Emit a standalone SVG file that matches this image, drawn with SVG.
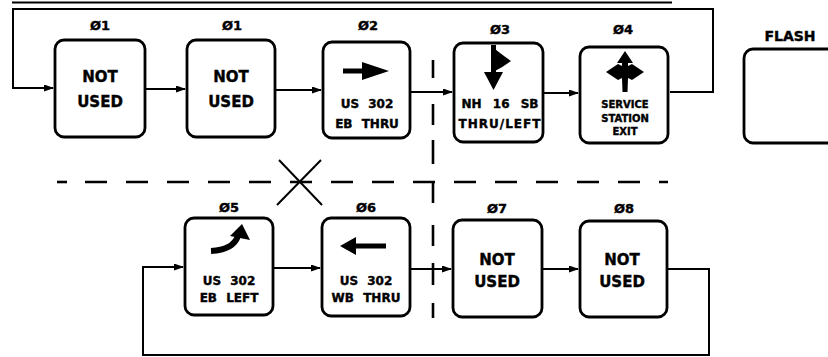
<svg xmlns="http://www.w3.org/2000/svg" width="828" height="357" viewBox="0 0 828 357">
<defs>
<style>
.box{fill:#fff;stroke:#000;stroke-width:2.8}
.ln{fill:none;stroke:#000;stroke-width:2}
.dash{fill:none;stroke:#000;stroke-width:2.6}
text{font-family:"DejaVu Sans","Liberation Sans",sans-serif;font-weight:bold;fill:#000;stroke:#000;stroke-width:0.4;text-anchor:middle}
.ph{font-size:13px}
.big{font-size:15px}
.mid{font-size:12px;word-spacing:5px}
.sm{font-size:10px}
.icon{fill:#000;stroke:none}
</style>
<marker id="ah" markerUnits="userSpaceOnUse" markerWidth="10" markerHeight="7" refX="9" refY="3.5" orient="auto">
<path d="M0,0 L10,3.5 L0,7 z" fill="#000"/>
</marker>
</defs>
<rect width="828" height="357" fill="#fff"/>

<g id="connectors">
<path class="ln" d="M12,2.5 H672" stroke-width="3"/>
<path class="ln" d="M670,92 H713 V9 H13 V88 H53" marker-end="url(#ah)"/>
<path class="ln" d="M146,89 H185" marker-end="url(#ah)"/>
<path class="ln" d="M276,90 H321" marker-end="url(#ah)"/>
<path class="ln" d="M411,92 H452" marker-end="url(#ah)"/>
<path class="ln" d="M544,93 H578" marker-end="url(#ah)"/>
<path class="ln" d="M274,268 H320" marker-end="url(#ah)"/>
<path class="ln" d="M411,269 H451" marker-end="url(#ah)"/>
<path class="ln" d="M543,269 H578" marker-end="url(#ah)"/>
<path class="ln" d="M668,269 H709 V355 H143 V267 H183" marker-end="url(#ah)"/>
<path class="dash" d="M57,182 H67"/>
<path class="dash" d="M85,182 H668" stroke-dasharray="22 19"/>
<path class="dash" d="M433,60 V78 M433,104 V125 M433,140 V164 M433,182 V203 M433,225 V246 M433,263 V285 M433,303 V318"/>
<path class="ln" d="M279,160 L322,205 M321,160 L277,205" stroke-width="2.4"/>
</g>

<g id="p1a">
<text class="ph" x="100" y="30">Ø1</text>
<rect class="box" x="55" y="40" width="90" height="97" rx="9"/>
<text class="big" x="100" y="82">NOT</text>
<text class="big" x="100" y="107">USED</text>
</g>
<g id="p1b">
<text class="ph" x="232" y="30">Ø1</text>
<rect class="box" x="187" y="40" width="88" height="97" rx="9"/>
<text class="big" x="231" y="82">NOT</text>
<text class="big" x="231" y="107">USED</text>
</g>
<g id="p2">
<text class="ph" x="368" y="30">Ø2</text>
<rect class="box" x="323" y="42" width="87" height="96" rx="9"/>
<rect class="icon" x="343" y="68.5" width="22" height="5"/>
<path class="icon" d="M362,62 L389,71 L362,80 z"/>
<text class="mid" x="367" y="108">US 302</text>
<text class="mid" x="367" y="128">EB THRU</text>
</g>
<g id="p3">
<text class="ph" x="500" y="34">Ø3</text>
<rect class="box" x="454" y="43" width="89" height="99" rx="9"/>
<rect class="icon" x="491" y="45" width="5" height="30"/>
<path class="icon" d="M484,72 L503,72 L493.5,90 z"/>
<path class="icon" d="M495,49 Q501,54 511,61 Q503,67 495,71 z"/>
<text class="mid" x="500" y="108" style="word-spacing:7px">NH 16 SB</text>
<text class="mid" x="500" y="128" style="letter-spacing:1px">THRU/LEFT</text>
</g>
<g id="p4">
<text class="ph" x="623" y="34">Ø4</text>
<rect class="box" x="580" y="47" width="88" height="96" rx="9"/>
<path class="icon" d="M625,51 L633,63 L628,63 L628,66 L632,64 L644,72 L632,80 L628,78 L627.5,92 L622.5,92 L622,78 L618,80 L606,72 L618,64 L622,66 L622,63 L617,63 z"/>
<text class="sm" x="625" y="108">SERVICE</text>
<text class="sm" x="625" y="122">STATION</text>
<text class="sm" x="625" y="135">EXIT</text>
</g>
<g id="flash">
<text x="790" y="41" style="font-size:14px">FLASH</text>
<rect class="box" x="744" y="49" width="100" height="94" rx="9"/>
</g>

<g id="p5">
<text class="ph" x="229" y="212">Ø5</text>
<rect class="box" x="185" y="218" width="88" height="97" rx="9"/>
<path d="M211,251 Q233,250 238,236" fill="none" stroke="#000" stroke-width="6"/>
<path class="icon" d="M242,224 L250,240 L230,236 z"/>
<text class="mid" x="229" y="285">US 302</text>
<text class="mid" x="229" y="302">EB LEFT</text>
</g>
<g id="p6">
<text class="ph" x="366" y="212">Ø6</text>
<rect class="box" x="322" y="218" width="88" height="98" rx="9"/>
<path class="icon" d="M340,246 L356,237 L356,243.5 L386,243.5 L386,248.5 L356,248.5 L356,255 z"/>
<text class="mid" x="366" y="285">US 302</text>
<text class="mid" x="366" y="302">WB THRU</text>
</g>
<g id="p7">
<text class="ph" x="497" y="213">Ø7</text>
<rect class="box" x="453" y="220" width="89" height="97" rx="9"/>
<text class="big" x="497" y="265">NOT</text>
<text class="big" x="497" y="287">USED</text>
</g>
<g id="p8">
<text class="ph" x="624" y="213">Ø8</text>
<rect class="box" x="580" y="221" width="87" height="96" rx="9"/>
<text class="big" x="622" y="265">NOT</text>
<text class="big" x="622" y="287">USED</text>
</g>
</svg>
